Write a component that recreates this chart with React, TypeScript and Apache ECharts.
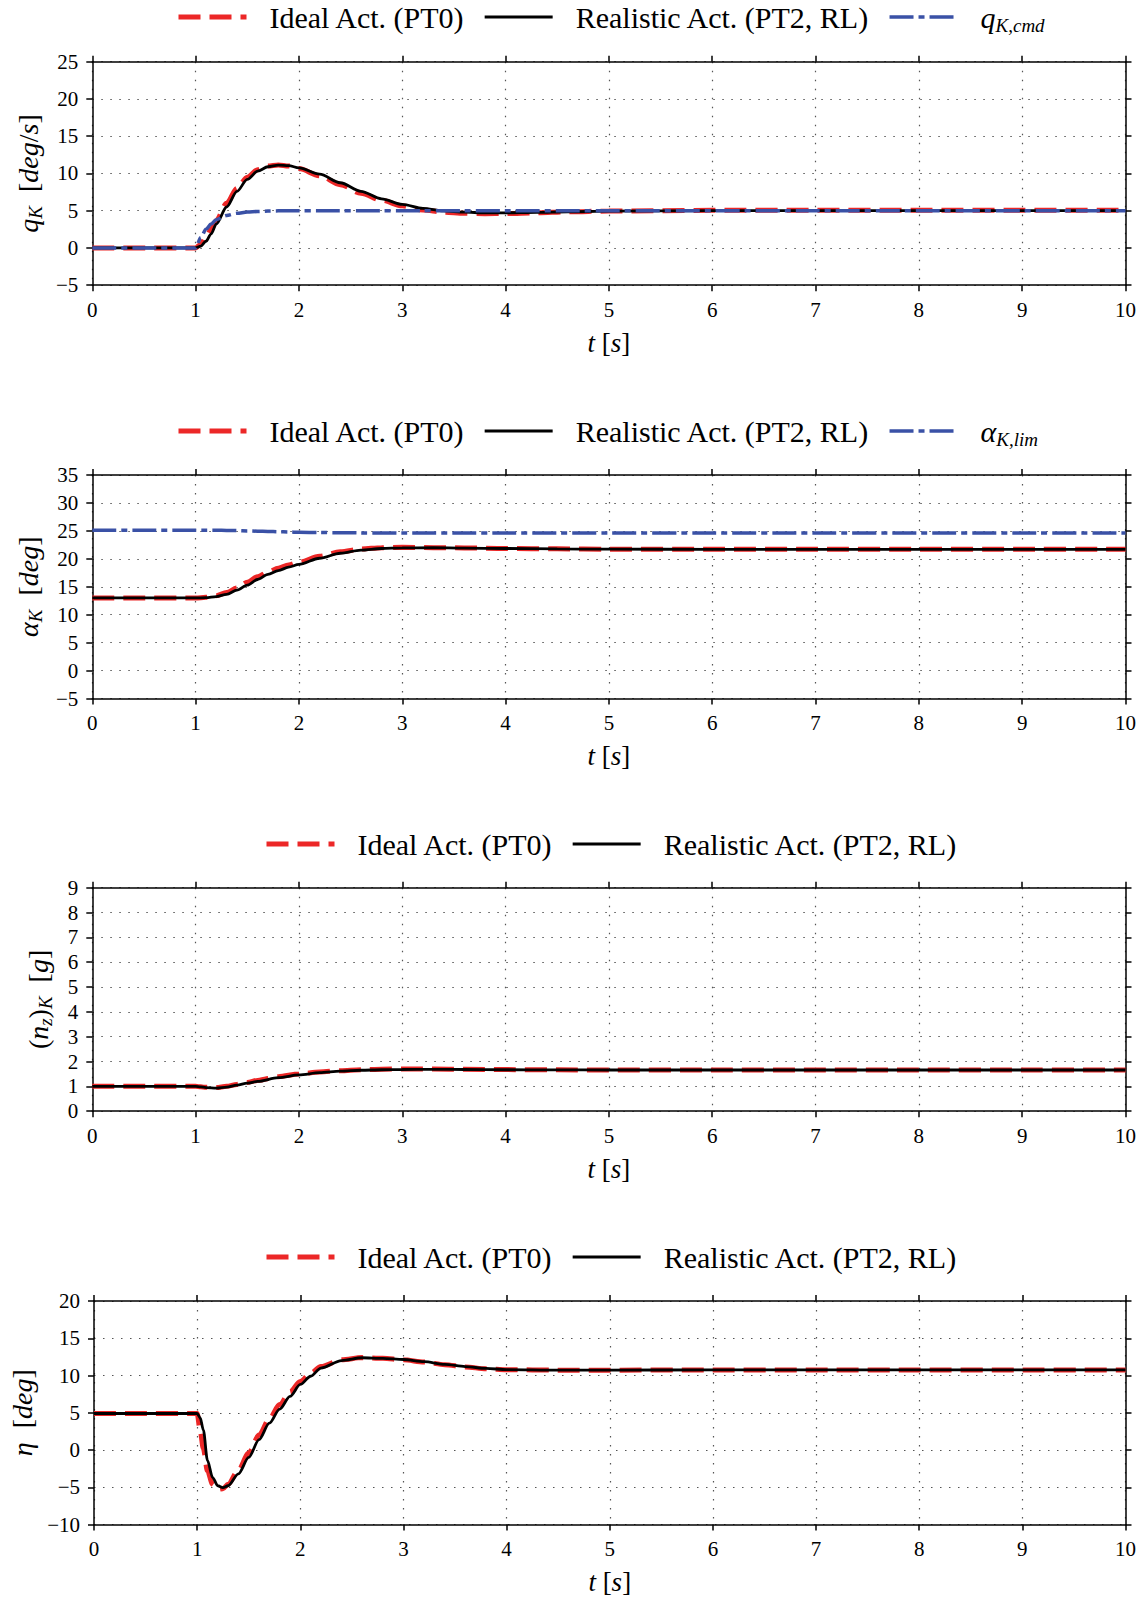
import React, { useEffect, useRef } from 'react';
import * as echarts from 'echarts';

// ---------- Panel 1: pitch rate q_K ----------
const T1 = [0, 0.5, 1.0, 1.05, 1.1, 1.15, 1.2, 1.3, 1.4, 1.5, 1.6, 1.7, 1.8, 1.9, 2.0, 2.2, 2.4, 2.6, 2.8, 3.0, 3.2, 3.4, 3.6, 3.8, 4.0, 4.3, 4.6, 5.0, 6, 7, 8, 9, 10];
const Q_IDEAL = [0, 0, 0, 0.5, 1.4, 2.5, 3.7, 6.0, 8.0, 9.5, 10.5, 11.0, 11.15, 11.0, 10.65, 9.7, 8.5, 7.35, 6.4, 5.65, 5.1, 4.8, 4.65, 4.6, 4.62, 4.72, 4.85, 4.95, 5.05, 5.05, 5.05, 5.05, 5.05];
const Q_REAL = [0, 0, 0, 0.25, 0.9, 1.9, 3.2, 5.5, 7.6, 9.2, 10.3, 10.9, 11.12, 11.05, 10.75, 9.9, 8.75, 7.6, 6.6, 5.85, 5.3, 4.97, 4.8, 4.72, 4.72, 4.78, 4.86, 4.93, 5.0, 5.0, 5.0, 5.0, 5.0];
const Q_CMD = [0, 0, 0, 1.4, 2.5, 3.2, 3.8, 4.35, 4.65, 4.82, 4.9, 4.95, 4.98, 5.0, 5.0, 5.0, 5.0, 5.0, 5.0, 5.0, 5.0, 5.0, 5.0, 5.0, 5.0, 5.0, 5.0, 5.0, 5.0, 5.0, 5.0, 5.0, 5.0];

// ---------- Panel 2: angle of attack alpha_K ----------
const T2 = [0, 0.5, 1.0, 1.1, 1.2, 1.3, 1.4, 1.5, 1.6, 1.7, 1.8, 1.9, 2.0, 2.2, 2.4, 2.6, 2.8, 3.0, 3.3, 3.6, 4.0, 4.5, 5, 6, 7, 8, 9, 10];
const A_IDEAL = [13, 13, 13, 13.1, 13.4, 13.95, 14.8, 15.8, 16.8, 17.6, 18.3, 18.9, 19.4, 20.45, 21.25, 21.75, 22.0, 22.05, 22.0, 21.95, 21.85, 21.78, 21.72, 21.7, 21.7, 21.7, 21.7, 21.7];
const A_REAL = [13, 13, 13, 13.05, 13.25, 13.65, 14.4, 15.3, 16.3, 17.2, 17.9, 18.5, 19.0, 20.1, 21.0, 21.55, 21.85, 21.95, 21.98, 21.92, 21.85, 21.78, 21.72, 21.7, 21.7, 21.7, 21.7, 21.7];
const A_LIM = [25.1, 25.1, 25.1, 25.1, 25.1, 25.08, 25.05, 25.0, 24.95, 24.9, 24.85, 24.8, 24.75, 24.7, 24.66, 24.64, 24.62, 24.6, 24.6, 24.6, 24.6, 24.6, 24.6, 24.6, 24.6, 24.6, 24.6, 24.6];

// ---------- Panel 3: load factor (n_z)_K ----------
const T3 = [0, 0.5, 1.0, 1.05, 1.1, 1.2, 1.3, 1.4, 1.5, 1.6, 1.8, 2.0, 2.2, 2.4, 2.6, 2.8, 3.0, 3.3, 3.6, 4.0, 4.5, 5, 6, 7, 8, 9, 10];
const N_IDEAL = [1, 1, 1, 0.98, 0.96, 0.95, 1.0, 1.08, 1.16, 1.24, 1.39, 1.5, 1.58, 1.63, 1.67, 1.69, 1.7, 1.695, 1.685, 1.675, 1.665, 1.66, 1.66, 1.66, 1.66, 1.66, 1.66];
const N_REAL = [1, 1, 1, 0.98, 0.95, 0.93, 0.97, 1.05, 1.13, 1.2, 1.35, 1.46, 1.55, 1.61, 1.65, 1.67, 1.68, 1.685, 1.68, 1.67, 1.665, 1.66, 1.66, 1.66, 1.66, 1.66, 1.66];

// ---------- Panel 4: elevator eta ----------
const T4 = [0, 0.5, 1.0, 1.03, 1.06, 1.1, 1.15, 1.2, 1.25, 1.3, 1.4, 1.5, 1.6, 1.7, 1.8, 1.9, 2.0, 2.1, 2.2, 2.4, 2.6, 2.8, 3.0, 3.2, 3.4, 3.6, 3.8, 4.0, 4.5, 5, 6, 7, 8, 9, 10];
const E_IDEAL = [4.9, 4.9, 4.9, 2.5, 0.2, -2.8, -4.6, -5.3, -5.2, -4.6, -2.7, -0.4, 2.0, 4.2, 6.1, 7.8, 9.2, 10.3, 11.2, 12.1, 12.4, 12.3, 12.1, 11.8, 11.45, 11.15, 10.9, 10.78, 10.72, 10.72, 10.75, 10.75, 10.75, 10.75, 10.75];
const E_REAL = [4.9, 4.9, 4.9, 4.3, 2.7, -1.4, -3.7, -4.8, -5.05, -4.8, -3.2, -1.0, 1.4, 3.6, 5.5, 7.2, 8.8, 9.9, 11.0, 12.0, 12.38, 12.3, 12.15, 11.85, 11.5, 11.2, 10.95, 10.8, 10.72, 10.72, 10.75, 10.75, 10.75, 10.75, 10.75];

const NAME_IDEAL = 'Ideal Act. (PT0)';
const NAME_REAL = 'Realistic Act. (PT2, RL)';
const NAME_QCMD = 'qK,cmd';
const NAME_ALIM = 'αK,lim';

const SERIF = '"Liberation Serif", "DejaVu Serif", serif';
const RED = '#ec2727';
const BLUE = '#3a51a6';

const zip = (t: number[], v: number[]) => t.map((x, i) => [x, v[i]]);

const richMath = (size: number, sub: number) => ({
  i: { fontFamily: SERIF, fontStyle: 'italic', fontSize: size, lineHeight: size + 6, verticalAlign: 'middle', color: '#000' },
  n: { fontFamily: SERIF, fontSize: size, lineHeight: size + 6, verticalAlign: 'middle', color: '#000' },
  s: { fontFamily: SERIF, fontStyle: 'italic', fontSize: sub, lineHeight: sub, verticalAlign: 'bottom', color: '#000' },
});

type Panel = {
  top: number;
  min: number;
  max: number;
  interval: number;
  yName: string;
  nameGap: number;
  legendTop: number;
  legendLeft: number;
  legendData: string[];
  series: { name: string; t: number[]; v: number[]; kind: 'ideal' | 'real' | 'ref' }[];
};

const PANELS: Panel[] = [
  {
    top: 61.7, min: -5, max: 25, interval: 5,
    yName: '{i|q}{s|K}{n|  [}{i|deg}{n|/}{i|s}{n|]}', nameGap: 42,
    legendTop: 2, legendLeft: 176,
    legendData: [NAME_IDEAL, NAME_REAL, NAME_QCMD],
    series: [
      { name: NAME_IDEAL, t: T1, v: Q_IDEAL, kind: 'ideal' },
      { name: NAME_REAL, t: T1, v: Q_REAL, kind: 'real' },
      { name: NAME_QCMD, t: T1, v: Q_CMD, kind: 'ref' },
    ],
  },
  {
    top: 475, min: -5, max: 35, interval: 5,
    yName: '{i|α}{s|K}{n|  [}{i|deg}{n|]}', nameGap: 44,
    legendTop: 416, legendLeft: 176,
    legendData: [NAME_IDEAL, NAME_REAL, NAME_ALIM],
    series: [
      { name: NAME_IDEAL, t: T2, v: A_IDEAL, kind: 'ideal' },
      { name: NAME_REAL, t: T2, v: A_REAL, kind: 'real' },
      { name: NAME_ALIM, t: T2, v: A_LIM, kind: 'ref' },
    ],
  },
  {
    top: 887.7, min: 0, max: 9, interval: 1,
    yName: '{n|(}{i|n}{s|z}{n|)}{s|K}{n|  [}{i|g}{n|]}', nameGap: 37,
    legendTop: 829, legendLeft: 264,
    legendData: [NAME_IDEAL, NAME_REAL],
    series: [
      { name: NAME_IDEAL, t: T3, v: N_IDEAL, kind: 'ideal' },
      { name: NAME_REAL, t: T3, v: N_REAL, kind: 'real' },
    ],
  },
  {
    top: 1301, min: -10, max: 20, interval: 5,
    yName: '{i|η}{n|  [}{i|deg}{n|]}', nameGap: 55,
    legendTop: 1242, legendLeft: 264,
    legendData: [NAME_IDEAL, NAME_REAL],
    series: [
      { name: NAME_IDEAL, t: T4, v: E_IDEAL, kind: 'ideal' },
      { name: NAME_REAL, t: T4, v: E_REAL, kind: 'real' },
    ],
  },
];

const GRID_LEFT = 92.3;
const GRID_WIDTH = 1033.2;
const GRID_HEIGHT = 223.5;

const minus = (v: number) => String(v).replace('-', '\u2212');

function buildOption() {
  const grid: any[] = [];
  const xAxis: any[] = [];
  const yAxis: any[] = [];
  const series: any[] = [];
  const legend: any[] = [];
  const axisLine = { show: true, onZero: false, lineStyle: { color: '#000', width: 1.5 } };
  const axisTick = { show: true, inside: false, length: 6, lineStyle: { color: '#000', width: 1.5 } };
  const split = { show: true, lineStyle: { color: '#555', width: 1.2, type: [1.5, 7.5] } };

  PANELS.forEach((p, k) => {
    grid.push({ left: GRID_LEFT, top: p.top, width: GRID_WIDTH, height: GRID_HEIGHT, containLabel: false });
    // bottom x
    xAxis.push({
      type: 'value', gridIndex: k, min: 0, max: 10, interval: 1, position: 'bottom',
      axisLine, axisTick, splitLine: split,
      axisLabel: { show: true, margin: 14, fontFamily: SERIF, fontSize: 21, color: '#000', formatter: minus },
      name: '{i|t}{n| [}{i|s}{n|]}', nameLocation: 'middle', nameGap: 41,
      nameTextStyle: { rich: richMath(27, 18) },
    });
    // top x (frame)
    xAxis.push({
      type: 'value', gridIndex: k, min: 0, max: 10, interval: 1, position: 'top',
      axisLine, axisTick, splitLine: { show: false }, axisLabel: { show: false },
    });
    // left y
    yAxis.push({
      type: 'value', gridIndex: k, min: p.min, max: p.max, interval: p.interval, position: 'left',
      axisLine, axisTick, splitLine: split,
      axisLabel: { show: true, margin: 14, fontFamily: SERIF, fontSize: 21, color: '#000', formatter: minus },
      name: p.yName, nameLocation: 'middle', nameGap: p.nameGap,
      nameTextStyle: { rich: richMath(28, 19) },
    });
    // right y (frame)
    yAxis.push({
      type: 'value', gridIndex: k, min: p.min, max: p.max, interval: p.interval, position: 'right',
      axisLine, axisTick, splitLine: { show: false }, axisLabel: { show: false },
    });

    p.series.forEach((s) => {
      const style =
        s.kind === 'ideal'
          ? { color: RED, width: 5, type: [22, 9] }
          : s.kind === 'real'
          ? { color: '#000', width: 2.8, type: 'solid' }
          : { color: BLUE, width: 3.5, type: [24, 5, 6, 5] };
      series.push({
        type: 'line', name: s.name, xAxisIndex: 2 * k, yAxisIndex: 2 * k,
        data: zip(s.t, s.v), symbol: 'none', smooth: 0.3, smoothMonotone: 'x',
        lineStyle: style, itemStyle: { color: style.color },
        z: s.kind === 'ideal' ? 2 : s.kind === 'real' ? 3 : 4,
      });
    });

    legend.push({
      data: p.legendData, top: p.legendTop, left: p.legendLeft, padding: 0,
      itemWidth: 68, itemHeight: 14, itemGap: 18, selectedMode: false,
      itemStyle: { opacity: 0 },
      lineStyle: { width: 'inherit', type: 'inherit' },
      textStyle: {
        fontFamily: SERIF, fontSize: 30, color: '#000', padding: [0, 0, 0, 18],
        rich: {
          ...richMath(30, 19),
        },
      },
      formatter: (name: string) => {
        if (name === NAME_QCMD) return '{i|q}{s|K,cmd}';
        if (name === NAME_ALIM) return '{i|α}{s|K,lim}';
        return '{n|' + name + '}';
      },
    });
  });

  return { animation: false, backgroundColor: '#fff', grid, xAxis, yAxis, series, legend };
}

export default function App() {
  const ref = useRef<HTMLDivElement>(null);
  useEffect(() => {
    const chart = echarts.init(ref.current!, null, { renderer: 'svg' });
    chart.setOption(buildOption() as any);
    return () => chart.dispose();
  }, []);
  return <div ref={ref} style={{ position: 'absolute', left: 0, top: 0, width: 1145, height: 1598, background: '#fff' }} />;
}
